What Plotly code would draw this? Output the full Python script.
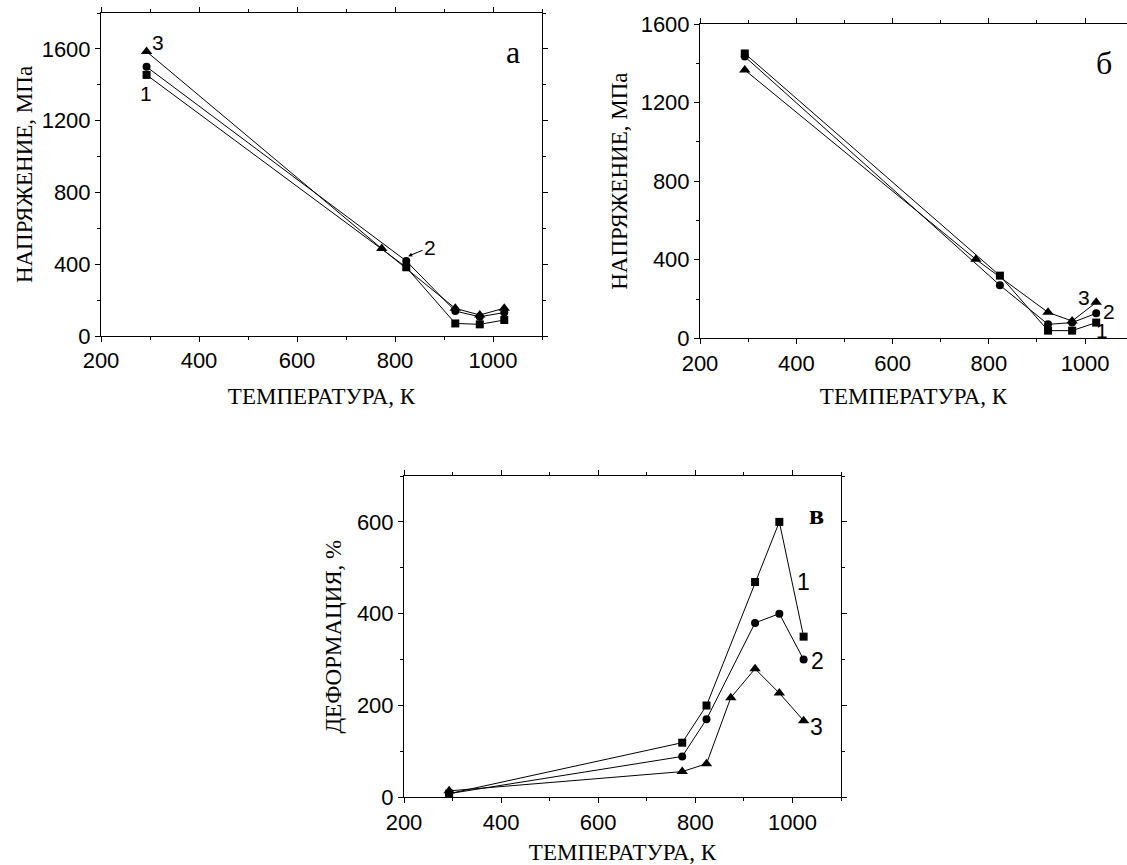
import plotly.graph_objects as go

# ---------------- data ----------------
# panel а (stress)
a_x1 = [293, 823, 923, 973, 1023]
a_y1 = [1455, 383, 70, 65, 89]
a_x2 = [293, 823, 923, 973, 1023]
a_y2 = [1500, 418, 139, 107, 131]
a_x3 = [293, 773, 923, 973, 1023]
a_y3 = [1585, 487, 154, 117, 155]

# panel б (stress)
b_x1 = [293, 823, 923, 973, 1023]
b_y1 = [1450, 319, 39, 39, 80]
b_x2 = [293, 823, 923, 973, 1023]
b_y2 = [1434, 270, 71, 80, 127]
b_x3 = [293, 773, 923, 973, 1023]
b_y3 = [1366, 402, 132, 88, 183]

# panel в (deformation)
c_x1 = [293, 773, 823, 923, 973, 1023]
c_y1 = [8, 119, 200, 469, 600, 350]
c_x2 = [293, 773, 823, 923, 973, 1023]
c_y2 = [8, 89, 170, 380, 400, 300]
c_x3 = [293, 773, 823, 873, 923, 973, 1023]
c_y3 = [14, 56, 73, 217, 280, 227, 167]

x_title = "ТЕМПЕРАТУРА, К"
y_title_stress = "НАПРЯЖЕНИЕ, МПа"
y_title_def = "ДЕФОРМАЦИЯ, %"

symbols = ["square", "circle", "triangle-up"]
sizes = [8, 8, 10]

fig = go.Figure()

def add_series(xs, ys, xa, ya):
    for i, (x, y) in enumerate(zip(xs, ys)):
        fig.add_trace(go.Scatter(
            x=x, y=y, mode="lines+markers", xaxis=xa, yaxis=ya,
            line=dict(color="black", width=1),
            marker=dict(symbol=symbols[i], size=sizes[i], color="black"),
            showlegend=False, cliponaxis=False))

add_series([a_x1, a_x2, a_x3], [a_y1, a_y2, a_y3], "x", "y")
add_series([b_x1, b_x2, b_x3], [b_y1, b_y2, b_y3], "x2", "y2")
add_series([c_x1, c_x2, c_x3], [c_y1, c_y2, c_y3], "x3", "y3")

W, H = 1127, 865
tickfont = dict(family="Liberation Sans, Arial", size=22, color="black")
titlefont = dict(family="Liberation Serif, Times New Roman", size=23, color="black")

def xaxis(dom, rng, anchor, standoff):
    return dict(domain=dom, range=rng, anchor=anchor, showgrid=False, zeroline=False,
                automargin=False,
                showline=True, linecolor="black", linewidth=1, mirror="ticks",
                ticks="outside", ticklen=5, tickcolor="black", dtick=200, tick0=0,
                minor=dict(ticks="outside", ticklen=3, dtick=100, tick0=0, tickcolor="black"),
                tickfont=tickfont,
                title=dict(text=x_title, font=titlefont, standoff=standoff))

def yaxis(dom, rng, anchor, dt, title, standoff, mirror="ticks"):
    return dict(domain=dom, range=rng, anchor=anchor, showgrid=False, zeroline=False,
                automargin=False,
                showline=True, linecolor="black", linewidth=1, mirror=mirror,
                ticks="outside", ticklen=5, tickcolor="black", dtick=dt, tick0=0,
                minor=dict(ticks="outside", ticklen=3, dtick=dt / 2, tick0=0, tickcolor="black"),
                tickfont=tickfont,
                title=dict(text=title, font=titlefont, standoff=standoff))

fig.update_layout(
    width=W, height=H, margin=dict(l=0, r=0, t=0, b=0),
    paper_bgcolor="white", plot_bgcolor="white",
    xaxis=xaxis([101 / W, 542 / W], [200, 1100], "y", 15),
    yaxis=yaxis([1 - 336 / H, 1 - 13 / H], [0, 1800], "x", 400, y_title_stress, 2),
    xaxis2=xaxis([700 / W, 1.0], [200, 1087], "y2", 13),
    yaxis2=yaxis([1 - 338.3 / H, 1 - 24 / H], [0, 1600], "x2", 400, y_title_stress, 6,
                 mirror=False),
    xaxis3=xaxis([404 / W, 841 / W], [200, 1100], "y3", 18),
    yaxis3=yaxis([1 - 797.3 / H, 1 - 476 / H], [0, 700], "x3", 200, y_title_def, 8),
)

numfont = dict(family="Liberation Sans, Arial", size=21, color="black")
numfont_c = dict(family="Liberation Sans, Arial", size=23, color="black")
letterfont = dict(family="Liberation Serif, Times New Roman", size=32, color="black")

ann = []
# panel а
ann.append(dict(x=292, y=1353, xref="x", yref="y", text="1", showarrow=False, font=numfont))
ann.append(dict(x=317, y=1633, xref="x", yref="y", text="3", showarrow=False, font=numfont))
ann.append(dict(x=827, y=445, xref="x", yref="y", text="2", showarrow=True, arrowhead=2,
                arrowsize=0.8, arrowwidth=1, arrowcolor="black", ax=22, ay=-9, font=numfont))
ann.append(dict(x=1041, y=1581, xref="x", yref="y", text="а", showarrow=False, font=letterfont))
# panel б
ann.append(dict(x=997, y=209, xref="x2", yref="y2", text="3", showarrow=False, font=numfont))
ann.append(dict(x=1050, y=135, xref="x2", yref="y2", text="2", showarrow=False, font=numfont))
ann.append(dict(x=1035, y=39, xref="x2", yref="y2", text="1", showarrow=False, font=numfont))
ann.append(dict(x=1039, y=1401, xref="x2", yref="y2", text="б", showarrow=False, font=letterfont))
# panel в
ann.append(dict(x=1022, y=470, xref="x3", yref="y3", text="1", showarrow=False, font=numfont_c))
ann.append(dict(x=1052, y=296, xref="x3", yref="y3", text="2", showarrow=False, font=numfont_c))
ann.append(dict(x=1050, y=154, xref="x3", yref="y3", text="3", showarrow=False, font=numfont_c))
ann.append(dict(x=1049, y=616, xref="x3", yref="y3", text="<b>в</b>", showarrow=False,
                font=dict(family="Liberation Serif, Times New Roman", size=28, color="black")))
fig.update_layout(annotations=ann)

fig.write_html("out.html", config={"displayModeBar": False})

# remove the default page margin so the figure fills the window exactly
with open("out.html", "r", encoding="utf-8") as f:
    html = f.read()
html = html.replace("<head>", "<head><style>html,body{margin:0;padding:0;overflow:hidden;}</style>", 1)
with open("out.html", "w", encoding="utf-8") as f:
    f.write(html)
